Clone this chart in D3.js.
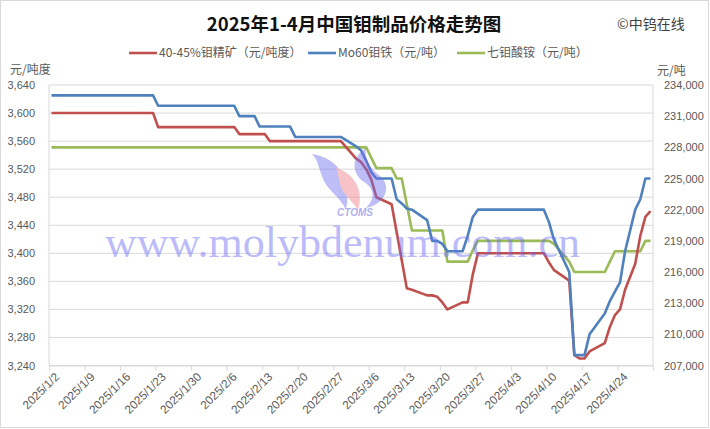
<!DOCTYPE html>
<html><head><meta charset="utf-8">
<script src="https://cdn.jsdelivr.net/npm/d3@7"></script>
<style>
body{margin:0;background:#fff;}
svg{display:block;}
text{font-family:"Liberation Sans","Noto Sans CJK SC",sans-serif;}
</style></head><body>
<svg id="c" width="710" height="429"></svg>
<script>
// ---------- data ----------
const tickLabels = ["2025/1/2","2025/1/9","2025/1/16","2025/1/23","2025/1/30","2025/2/6","2025/2/13","2025/2/20","2025/2/27","2025/3/6","2025/3/13","2025/3/20","2025/3/27","2025/4/3","2025/4/10","2025/4/17","2025/4/24"];
const leftTicks = [3240,3280,3320,3360,3400,3440,3480,3520,3560,3600,3640];
const rightTicks = [207000,210000,213000,216000,219000,222000,225000,228000,231000,234000];
const seriesNames = ["40-45%钼精矿（元/吨度）","Mo60钼铁（元/吨）","七钼酸铵（元/吨）"];

const oreDates  = ["1/2","1/22","1/23","2/7","2/8","2/13","2/14","2/28","3/3","3/4","3/5","3/6","3/7","3/10","3/11","3/12","3/13","3/14","3/17","3/18","3/19","3/20","3/21","3/24","3/25","3/26","3/27","4/9","4/10","4/11","4/14","4/15","4/16","4/17","4/18","4/21","4/22","4/23","4/24","4/25","4/27","4/28","4/29","4/30"];
const oreValues = [3600,3600,3580,3580,3570,3570,3560,3560,3535,3530,3520,3505,3480,3470,3430,3390,3350,3348,3340,3340,3338,3330,3320,3330,3330,3370,3400,3400,3387,3376,3361,3255,3250,3250,3260,3272,3295,3312,3320,3348,3385,3425,3452,3460];

const feDates  = ["1/2","1/22","1/23","2/7","2/8","2/11","2/12","2/18","2/19","2/28","3/3","3/4","3/5","3/6","3/7","3/10","3/11","3/12","3/13","3/14","3/17","3/18","3/19","3/20","3/21","3/24","3/25","3/26","3/27","4/9","4/10","4/11","4/14","4/15","4/16","4/17","4/18","4/21","4/22","4/23","4/24","4/25","4/27","4/28","4/29","4/30"];
const feValues = [233000,233000,232000,232000,231000,231000,230000,230000,229000,229000,228100,227700,226700,225600,225000,225000,223000,222600,222100,222000,221000,219000,219000,218700,218000,218000,219500,221300,222000,222000,220800,219100,216000,208000,208000,208000,210000,212000,213200,214100,215000,218000,222000,223000,225000,225000];

const ahmDates  = ["1/2","3/5","3/6","3/7","3/10","3/11","3/12","3/13","3/14","3/20","3/21","3/25","3/26","3/27","4/10","4/11","4/14","4/15","4/21","4/22","4/23","4/28","4/29","4/30"];
const ahmValues = [228000,228000,227000,226000,226000,225000,225000,222500,220000,220000,217000,217000,218100,219000,219000,218700,217000,216000,216000,217000,218000,218000,219000,219000];

// ---------- setup ----------
const DAY = 864e5;
const parse = s => { const p = s.split("/").map(Number); return new Date(Date.UTC(2025, p[p.length-2]-1, p[p.length-1])); };
const start = parse("1/2"), end = parse("4/30");
const L = 49, R = 653, T = 85, B = 365.5;

const svg = d3.select("#c");
svg.append("rect").attr("x",0.5).attr("y",0.5).attr("width",708).attr("height",427)
  .attr("fill","#fff").attr("stroke","#d9d9d9");

const x = d3.scaleUtc().domain([new Date(+start - DAY/2), new Date(+end + DAY/2)]).range([L, R]);
const yL = d3.scaleLinear().domain([3240, 3640]).range([B, T]);
const yR = d3.scaleLinear().domain([207000, 234000]).range([B, T]);

// gridlines
svg.append("g").selectAll("line").data(leftTicks).join("line")
  .attr("x1", L).attr("x2", R).attr("y1", d => yL(d)).attr("y2", d => yL(d))
  .attr("stroke", "#d9d9d9").attr("stroke-width", 1);
svg.append("line").attr("x1",L).attr("x2",L).attr("y1",T).attr("y2",B).attr("stroke","#d9d9d9");
svg.append("line").attr("x1",R).attr("x2",R).attr("y1",T).attr("y2",B).attr("stroke","#d9d9d9");

// left axis
const gl = svg.append("g").attr("transform", `translate(${L},0)`)
  .call(d3.axisLeft(yL).tickValues(leftTicks).tickSize(0).tickPadding(14).tickFormat(d3.format(",")));
gl.select(".domain").remove();
gl.selectAll("text").attr("fill","#595959").style("font-size","11px");

// right axis
const gr = svg.append("g").attr("transform", `translate(${R},0)`)
  .call(d3.axisRight(yR).tickValues(rightTicks).tickSize(0).tickPadding(11).tickFormat(d3.format(",")));
gr.select(".domain").remove();
gr.selectAll("text").attr("fill","#595959").style("font-size","11px");

// x axis: tick marks at week boundaries
const bounds = d3.range(0, 18).map(k => new Date(+start - DAY/2 + k*7*DAY));
const gx = svg.append("g").attr("transform", `translate(0,${B})`)
  .call(d3.axisBottom(x).tickValues(bounds).tickSize(5).tickFormat(""));
gx.select(".domain").attr("stroke","#d9d9d9");
gx.selectAll(".tick line").attr("stroke","#d9d9d9");

// x labels
const labelDates = tickLabels.map(parse);
const gxl = svg.append("g").attr("transform", `translate(0,${B})`)
  .call(d3.axisBottom(x).tickValues(labelDates).tickSize(0).tickFormat((d,i) => tickLabels[i]));
gxl.select(".domain").remove();
gxl.selectAll("text").attr("fill","#595959").style("font-size","11.8px")
  .attr("text-anchor","end").attr("dy",null).attr("y",0)
  .attr("transform","translate(8,12) rotate(-45)");

// series
const mk = (dates, vals, y) => dates.map((d,i) => ({x: parse(d), v: vals[i]})).map(p => [x(p.x), y(p.v)]);
const line = d3.line();
const colors = ["#c0504d","#4f81bd","#9bbb59"];
svg.append("path").attr("d", line(mk(ahmDates, ahmValues, yR))).attr("fill","none").attr("stroke",colors[2]).attr("stroke-width",2.6).attr("stroke-linejoin","round");
svg.append("path").attr("d", line(mk(oreDates, oreValues, yL))).attr("fill","none").attr("stroke",colors[0]).attr("stroke-width",2.6).attr("stroke-linejoin","round");
svg.append("path").attr("d", line(mk(feDates, feValues, yR))).attr("fill","none").attr("stroke",colors[1]).attr("stroke-width",2.6).attr("stroke-linejoin","round");

// watermark logo
const wm = svg.append("g").attr("opacity",0.45);
wm.append("path").attr("d","M312,154 C340,158 352,182 346,210 C340,196 326,190 322,176 C318,166 318,160 312,154 Z").attr("fill","#6f6ff0");
wm.append("path").attr("d","M336,168 C356,174 364,192 358,210 C352,200 342,194 340,184 C338,178 338,172 336,168 Z").attr("fill","#f07a8a");
wm.append("path").attr("d","M366,148 C350,158 352,174 364,182 C374,188 376,198 366,208 C386,204 392,186 380,176 C370,168 364,160 366,148 Z").attr("fill","#6f6ff0");
wm.append("text").attr("x",355).attr("y",216).attr("text-anchor","middle").style("font-size","10px").style("font-style","italic").style("font-weight","bold").attr("fill","#5050e0").text("CTOMS");
svg.append("text").attr("x",105).attr("y",257).attr("opacity",0.45)
  .style("font-family","'Liberation Serif',serif").style("font-size","44px").attr("fill","#6b6bf5")
  .text("www.molybdenum.com.cn");

// title
svg.append("text").attr("x",354).attr("y",31).attr("text-anchor","middle")
  .style("font-family","'Noto Sans CJK SC',sans-serif").style("font-size","18.5px").style("font-weight","bold").attr("fill","#111")
  .text("2025年1-4月中国钼制品价格走势图");
svg.append("text").attr("x",617).attr("y",29)
  .style("font-family","'Noto Sans CJK SC',sans-serif").style("font-size","14px").attr("fill","#404040").text("©中钨在线");

// legend
const legX = [129, 308, 457];
const lg = svg.append("g");
seriesNames.forEach((n,i) => {
  lg.append("line").attr("x1",legX[i]).attr("x2",legX[i]+28).attr("y1",53).attr("y2",53).attr("stroke",colors[i]).attr("stroke-width",2.6);
  lg.append("text").attr("x",legX[i]+30).attr("y",53).attr("dy","0.35em").style("font-family","'Noto Sans CJK SC',sans-serif").style("font-size","12px").attr("fill","#595959").text(n);
});

// axis units
svg.append("text").attr("x",10).attr("y",70).attr("dy","0.35em").style("font-family","'Noto Sans CJK SC',sans-serif").style("font-size","12px").attr("fill","#595959").text("元/吨度");
svg.append("text").attr("x",657).attr("y",71).attr("dy","0.35em").style("font-family","'Noto Sans CJK SC',sans-serif").style("font-size","12px").attr("fill","#595959").text("元/吨");
</script>
</body></html>
